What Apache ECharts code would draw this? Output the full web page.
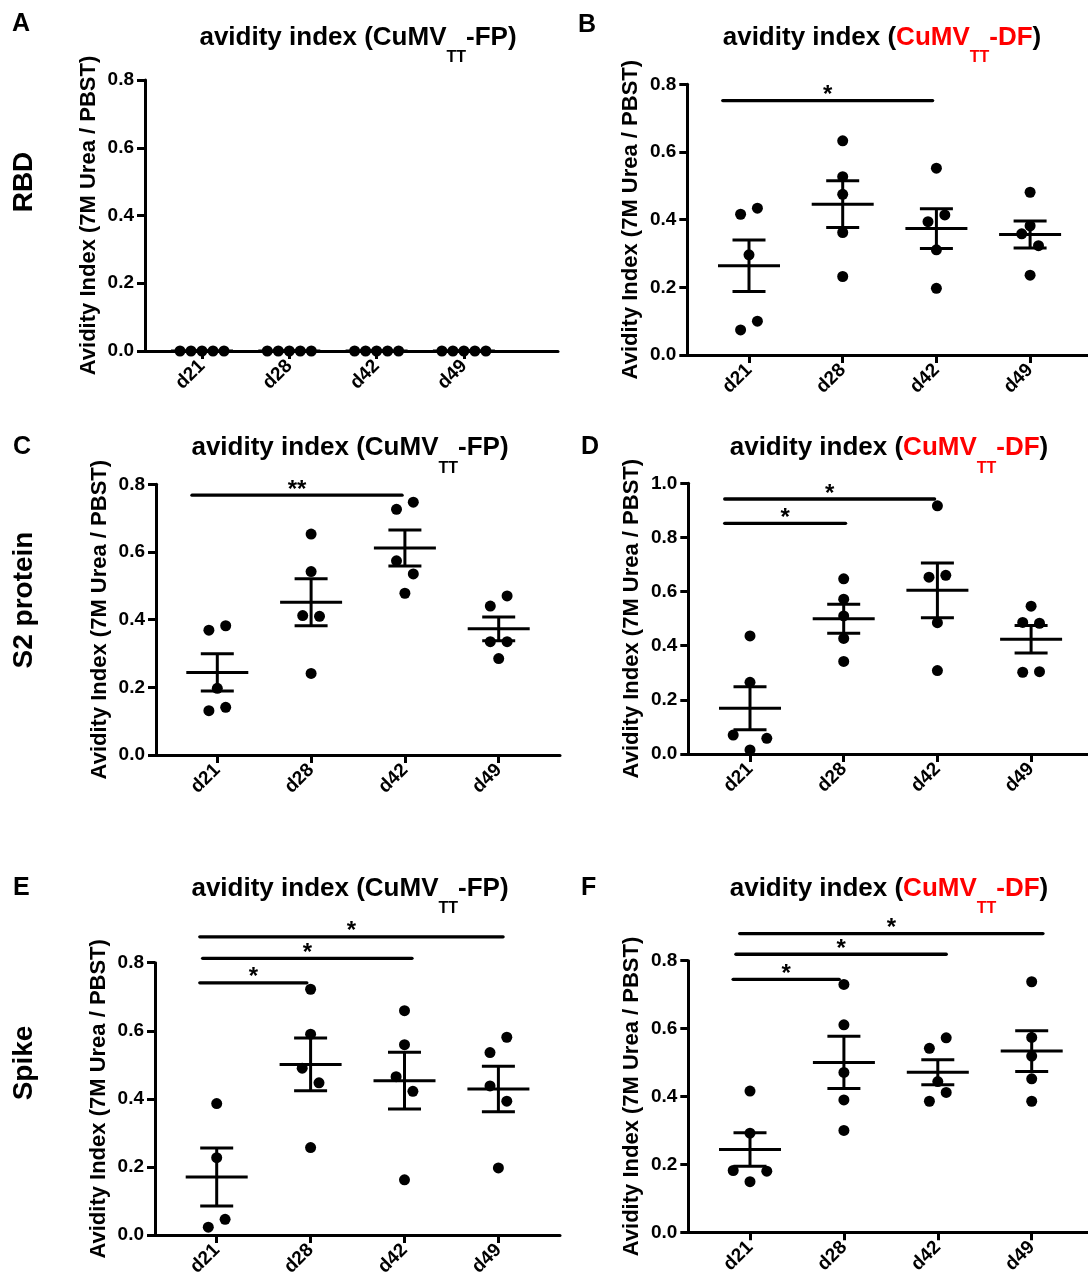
<!DOCTYPE html>
<html><head><meta charset="utf-8">
<script src="https://cdn.jsdelivr.net/npm/echarts@6/dist/echarts.min.js"></script>
<style>html,body{margin:0;padding:0;background:#fff}#c{width:1088px;height:1281px}</style>
</head><body><div id="c"></div>
<script>
// ---------------- data ----------------
const days = ['d21', 'd28', 'd42', 'd49'];
const yName = 'Avidity Index (7M Urea / PBST)';

// RBD, CuMVTT-FP
const rbdFP = [
  [0, 0, 0, 0, 0],
  [0, 0, 0, 0, 0],
  [0, 0, 0, 0, 0],
  [0, 0, 0, 0, 0]
];
// RBD, CuMVTT-DF
const rbdDF = [
  [0.416, 0.434, 0.296, 0.074, 0.100],
  [0.633, 0.527, 0.475, 0.362, 0.232],
  [0.552, 0.394, 0.414, 0.311, 0.197],
  [0.481, 0.358, 0.382, 0.323, 0.236]
];
// S2 protein, CuMVTT-FP
const s2FP = [
  [0.369, 0.382, 0.197, 0.131, 0.141],
  [0.653, 0.542, 0.412, 0.410, 0.241],
  [0.726, 0.747, 0.574, 0.535, 0.478],
  [0.440, 0.470, 0.335, 0.335, 0.285]
];
// S2 protein, CuMVTT-DF
const s2DF = [
  [0.436, 0.265, 0.070, 0.015, 0.058],
  [0.647, 0.572, 0.510, 0.427, 0.342],
  [0.917, 0.653, 0.660, 0.485, 0.308],
  [0.546, 0.486, 0.483, 0.302, 0.304]
];
// Spike, CuMVTT-FP
const spikeFP = [
  [0.386, 0.227, 0.023, 0.046],
  [0.722, 0.590, 0.490, 0.447, 0.257],
  [0.659, 0.559, 0.465, 0.422, 0.162],
  [0.536, 0.581, 0.438, 0.393, 0.197]
];
// Spike, CuMVTT-DF
const spikeDF = [
  [0.416, 0.292, 0.182, 0.149, 0.180],
  [0.730, 0.611, 0.471, 0.390, 0.300],
  [0.542, 0.573, 0.386, 0.444, 0.412],
  [0.738, 0.574, 0.519, 0.452, 0.386]
];

// significance brackets: [from (category position), to, y value, label]
const sigRbdFP = [];
const sigRbdDF = [[0.72, 2.96, 0.752, '*']];
const sigS2FP = [[0.73, 2.97, 0.768, '**']];
const sigS2DF = [[0.73, 2.97, 0.942, '*'], [0.73, 2.02, 0.852, '*']];
const sigSpikeFP = [[0.82, 4.05, 0.876, '*'], [0.85, 3.08, 0.813, '*'], [0.82, 1.96, 0.741, '*']];
const sigSpikeDF = [[0.89, 4.12, 0.880, '*'], [0.85, 3.09, 0.819, '*'], [0.82, 1.95, 0.745, '*']];

// ---------------- layout ----------------
const FONT = '"Liberation Sans", Arial, Helvetica, sans-serif';
const panels = [
  {vals: rbdFP,   sig: sigRbdFP,   ymax: 0.8, L: 145,   R: 558,  top: 80,    bottom: 351,    t1: 202,   sp: 87.3, df: false, letter: 'A', lx: 12,  ly: 24,  tx: 358, ty: 45},
  {vals: rbdDF,   sig: sigRbdDF,   ymax: 0.8, L: 687.3, R: 1088, top: 84.3,  bottom: 355,    t1: 749,   sp: 93.7, df: true,  letter: 'B', lx: 578, ly: 25,  tx: 882, ty: 45},
  {vals: s2FP,    sig: sigS2FP,    ymax: 0.8, L: 156,   R: 560,  top: 484.3, bottom: 755,    t1: 217.3, sp: 93.8, df: false, letter: 'C', lx: 13,  ly: 447, tx: 350, ty: 455.5},
  {vals: s2DF,    sig: sigS2DF,    ymax: 1.0, L: 688.3, R: 1088, top: 483.3, bottom: 754,    t1: 750,   sp: 93.7, df: true,  letter: 'D', lx: 581, ly: 447, tx: 889, ty: 455.5},
  {vals: spikeFP, sig: sigSpikeFP, ymax: 0.8, L: 155,   R: 560,  top: 962.7, bottom: 1235,   t1: 216.7, sp: 93.9, df: false, letter: 'E', lx: 13,  ly: 888, tx: 350, ty: 896},
  {vals: spikeDF, sig: sigSpikeDF, ymax: 0.8, L: 688.3, R: 1088, top: 960.7, bottom: 1232.3, t1: 750,   sp: 93.9, df: true,  letter: 'F', lx: 581, ly: 888, tx: 889, ty: 896}
];
const rowLabels = [['RBD', 182], ['S2 protein', 600], ['Spike', 1063]];

const HALF = 8.4;      // half horizontal step of point spreading (px)
const GAP = 15.8;      // vertical proximity (px) that makes points share a row
const DOT = 11;

function mean(a) { return a.reduce((s, v) => s + v, 0) / a.length; }
function sem(a) {
  const m = mean(a);
  const v = a.reduce((s, x) => s + (x - m) * (x - m), 0) / (a.length - 1);
  return Math.sqrt(v) / Math.sqrt(a.length);
}
// column scatter spreading (pixel offsets), derived from the values
function spread(vals, pxPerY) {
  const idx = vals.map((v, i) => i).sort((a, b) => vals[a] - vals[b]);
  const groups = [];
  let cur = [idx[0]];
  for (let k = 1; k < idx.length; k++) {
    if ((vals[idx[k]] - vals[idx[k - 1]]) * pxPerY < GAP) cur.push(idx[k]);
    else { groups.push(cur); cur = [idx[k]]; }
  }
  groups.push(cur);
  const off = vals.map(() => 0);
  groups.forEach(g => {
    const k = g.length;
    if (k === 1) return;
    const mem = g.slice().sort((a, b) => a - b);
    let step;
    if (k === 2) step = 2 * HALF;
    else if (k === 3) {
      const mx = Math.max.apply(null, g.map(i => vals[i]));
      step = vals[mem[1]] >= mx ? HALF : 2 * HALF;
    } else step = Math.min(2 * HALF, 44 / (k - 1));
    mem.forEach((m, j) => { off[m] = (j - (k - 1) / 2) * step; });
  });
  return off;
}

// text measuring for the titles with subscripts
const mctx = document.createElement('canvas').getContext('2d');
function textW(t, size) { mctx.font = 'bold ' + size + 'px ' + FONT; return mctx.measureText(t).width; }

const grids = [], xAxes = [], yAxes = [], series = [], graphics = [];
const axisLineStyle = {color: '#000', width: 3};
const labelStyle = {color: '#000', fontSize: 19, fontWeight: 'bold', fontFamily: FONT};

function addTitle(cx, base, df) {
  const RED = '#ff0000';
  const segs = df
    ? [['avidity index (', 0, '#000'], ['CuMV', 0, RED], ['TT', 1, RED], ['-DF', 0, RED], [')', 0, '#000']]
    : [['avidity index (CuMV', 0, '#000'], ['TT', 1, '#000'], ['-FP)', 0, '#000']];
  const sizes = [26, 16];
  const widths = segs.map(s => textW(s[0], sizes[s[1]]));
  let x = cx - widths.reduce((a, b) => a + b, 0) / 2;
  segs.forEach((s, i) => {
    const sub = s[1] === 1;
    graphics.push({type: 'text', x: x, y: sub ? base + 13 : base - 7.5, silent: true,
      style: {text: s[0], fill: s[2], font: 'bold ' + sizes[s[1]] + 'px ' + FONT,
              align: 'left', verticalAlign: 'middle'}});
    x += widths[i];
  });
}

panels.forEach((p, gi) => {
  const xmin = 1 - (p.t1 - p.L) / p.sp;
  const xmax = 4 + (p.R - (p.t1 + 3 * p.sp)) / p.sp;
  const pxPerY = (p.bottom - p.top) / p.ymax;
  grids.push({left: p.L, top: p.top, width: p.R - p.L, height: p.bottom - p.top,
              containLabel: false, outerBoundsMode: 'none'});
  xAxes.push({
    type: 'value', gridIndex: gi, min: xmin, max: xmax,
    axisLine: {show: true, lineStyle: axisLineStyle},
    axisTick: {show: true, customValues: [1, 2, 3, 4], length: 8, lineStyle: axisLineStyle},
    axisLabel: Object.assign({customValues: [1, 2, 3, 4], rotate: 45, margin: 12,
      formatter: v => days[Math.round(v) - 1] || ''}, labelStyle),
    splitLine: {show: false}
  });
  yAxes.push({
    type: 'value', gridIndex: gi, min: 0, max: p.ymax, interval: 0.2,
    axisLine: {show: true, lineStyle: axisLineStyle},
    axisTick: {show: true, length: 8, lineStyle: axisLineStyle},
    axisLabel: Object.assign({margin: 11, formatter: v => v.toFixed(1)}, labelStyle),
    splitLine: {show: false},
    name: yName, nameLocation: 'middle', nameGap: 45, nameRotate: 90,
    nameTextStyle: {color: '#000', fontSize: 22, fontWeight: 'bold', fontFamily: FONT}
  });
  // dots
  const pts = [];
  p.vals.forEach((arr, di) => {
    const off = spread(arr, pxPerY);
    arr.forEach((v, k) => pts.push([di + 1 + off[k] / p.sp, v]));
  });
  series.push({type: 'scatter', xAxisIndex: gi, yAxisIndex: gi, data: pts, symbolSize: DOT,
    itemStyle: {color: '#000', opacity: 1}, silent: true, z: 3, clip: false});
  // mean +/- SEM
  const ms = p.vals.map((arr, di) => [di + 1, mean(arr), sem(arr)]);
  series.push({type: 'custom', xAxisIndex: gi, yAxisIndex: gi, data: ms, clip: false, z: 4, silent: true,
    encode: {x: 0, y: 1},
    renderItem: (params, api) => {
      const x = api.value(0), m = api.value(1), s = api.value(2);
      const c = api.coord([x, m]), t = api.coord([x, m + s]), b = api.coord([x, m - s]);
      const st = {stroke: '#000', lineWidth: 3};
      return {type: 'group', children: [
        {type: 'line', shape: {x1: c[0] - 31, y1: c[1], x2: c[0] + 31, y2: c[1]}, style: st},
        {type: 'line', shape: {x1: c[0], y1: t[1], x2: c[0], y2: b[1]}, style: st},
        {type: 'line', shape: {x1: c[0] - 16.5, y1: t[1], x2: c[0] + 16.5, y2: t[1]}, style: st},
        {type: 'line', shape: {x1: c[0] - 16.5, y1: b[1], x2: c[0] + 16.5, y2: b[1]}, style: st}
      ]};
    }});
  // significance brackets
  if (p.sig.length) {
    series.push({type: 'custom', xAxisIndex: gi, yAxisIndex: gi, data: p.sig.map(s => [s[0], s[1], s[2]]),
      clip: false, z: 5, silent: true, encode: {x: [0, 1], y: 2},
      renderItem: (params, api) => {
        const a = api.coord([api.value(0), api.value(2)]);
        const b = api.coord([api.value(1), api.value(2)]);
        const lab = p.sig[params.dataIndex][3];
        return {type: 'group', children: [
          {type: 'line', shape: {x1: a[0], y1: a[1], x2: b[0], y2: b[1]},
           style: {stroke: '#000', lineWidth: 3.3, lineCap: 'round'}},
          {type: 'text', x: (a[0] + b[0]) / 2, y: a[1] - 5,
           style: {text: lab, fill: '#000', font: 'bold 24px ' + FONT, align: 'center', verticalAlign: 'middle'}}
        ]};
      }});
  }
  // panel letter
  graphics.push({type: 'text', x: p.lx, y: p.ly, silent: true,
    style: {text: p.letter, fill: '#000', font: 'bold 25px ' + FONT, align: 'left', verticalAlign: 'middle'}});
  addTitle(p.tx, p.ty, p.df);
});

rowLabels.forEach(r => {
  graphics.push({type: 'text', x: 24, y: r[1], rotation: Math.PI / 2, silent: true,
    style: {text: r[0], fill: '#000', font: 'bold 28px ' + FONT, align: 'center', verticalAlign: 'middle'}});
});

const chart = echarts.init(document.getElementById('c'), null, {renderer: 'canvas'});
chart.setOption({
  animation: false,
  backgroundColor: '#fff',
  grid: grids, xAxis: xAxes, yAxis: yAxes, series: series,
  graphic: graphics
});
</script></body></html>
